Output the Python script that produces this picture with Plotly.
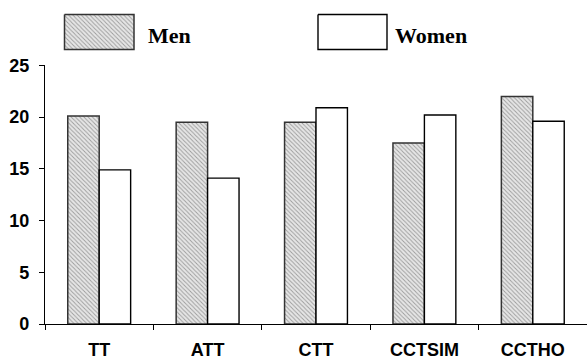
import plotly.graph_objects as go

categories = ["TT", "ATT", "CTT", "CCTSIM", "CCTHO"]
men = [20.1, 19.5, 19.5, 17.5, 22.0]
women = [14.9, 14.1, 20.9, 20.2, 19.6]
series_names = ["Men", "Women"]
y_ticks = [0, 5, 10, 15, 20, 25]

W, H = 587, 362
ML, MR, MB = 45, 0, 38.3
plot_h = H - MB
main_top = 65.3
main_dom_top = (plot_h - main_top) / plot_h

pattern = dict(shape="\\", size=3, solidity=0.3, fgcolor="#9c9c9c", bgcolor="#e6e6e6", fillmode="replace")

fig = go.Figure()
fig.add_trace(go.Bar(x=categories, y=men, name=series_names[0],
                     marker=dict(color="#e6e6e6", pattern=pattern,
                                 line=dict(color="#333333", width=1.5)),
                     showlegend=False))
fig.add_trace(go.Bar(x=categories, y=women, name=series_names[1],
                     marker=dict(color="white", line=dict(color="black", width=1.4)),
                     showlegend=False))

# Custom legend drawn in pixel space on a separate axis pair
def box(x0, y0, x1, y1):
    return [x0, x1, x1, x0, x0], [y0, y0, y1, y1, y0]

bx, by = box(64.5, 14.5, 134, 49.5)
fig.add_trace(go.Scatter(x=bx, y=by, xaxis="x2", yaxis="y2", mode="lines",
                         fill="toself", fillcolor="#e6e6e6", fillpattern=pattern,
                         line=dict(color="#333333", width=1.5), hoverinfo="skip",
                         showlegend=False))
bx, by = box(318, 14.5, 387, 49.5)
fig.add_trace(go.Scatter(x=bx, y=by, xaxis="x2", yaxis="y2", mode="lines",
                         fill="toself", fillcolor="white",
                         line=dict(color="black", width=1.4), hoverinfo="skip",
                         showlegend=False))

legend_font = dict(family="Liberation Serif", size=22, color="black")
fig.add_annotation(x=146, y=35, xref="x2", yref="y2", text="<b>" + series_names[0] + "</b>",
                   showarrow=False, xanchor="left", yanchor="middle", font=legend_font)
fig.add_annotation(x=393, y=35, xref="x2", yref="y2", text="<b>" + series_names[1] + "</b>",
                   showarrow=False, xanchor="left", yanchor="middle", font=legend_font)

tick_font = dict(family="Liberation Sans", size=18, color="black", weight="bold")

fig.update_layout(
    width=W, height=H,
    margin=dict(l=ML, r=MR, t=0, b=MB, pad=0),
    plot_bgcolor="rgba(0,0,0,0)", paper_bgcolor="white",
    barmode="group", bargap=0.42, bargroupgap=0,
    xaxis=dict(domain=[0, 1], showline=True, linecolor="black", linewidth=1.3,
               ticks="outside", tickson="boundaries", ticklen=5, tickcolor="black",
               tickwidth=1.3, showgrid=False, tickfont=tick_font,
               ticklabelstandoff=9, anchor="y", automargin=False),
    yaxis=dict(domain=[0, main_dom_top], range=[0, 25], tickvals=y_ticks,
               showline=True, linecolor="black", linewidth=1.3,
               ticks="outside", ticklen=5, tickcolor="black", tickwidth=1.3,
               showgrid=False, zeroline=False, tickfont=tick_font,
               ticklabelstandoff=6, automargin=False),
    xaxis2=dict(domain=[0, 1], range=[ML, W], visible=False,
                anchor="y2", fixedrange=True),
    yaxis2=dict(domain=[0, 1], range=[plot_h, 0], visible=False,
                anchor="x2", fixedrange=True),
)

fig.write_html("out.html", config={"displayModeBar": False},
               post_script="document.body.style.margin='0px';document.body.style.overflow='hidden';")
